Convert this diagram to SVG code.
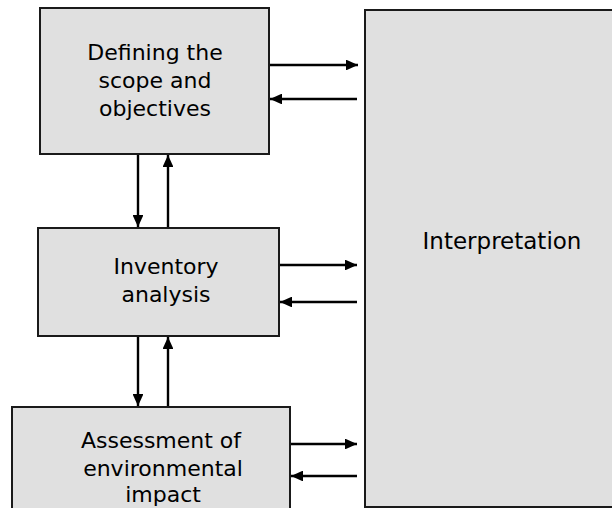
<svg xmlns="http://www.w3.org/2000/svg" width="612" height="508" viewBox="0 0 612 508">
<style>
.box{fill:#e0e0e0;stroke:#1a1a1a;stroke-width:2}
.t{font-family:"Comic Sans MS","DejaVu Sans",sans-serif;font-size:22px;fill:#000;text-anchor:middle}
.c{stroke:#000;stroke-width:2.4;fill:none;marker-end:url(#ah)}
</style>
<defs>
<marker id="ah" viewBox="0 0 10 10" refX="10" refY="5" markerWidth="5" markerHeight="4.5" markerUnits="strokeWidth" orient="auto" preserveAspectRatio="none">
<path d="M0,0 L10,5 L0,10 z" fill="#000"/>
</marker>
</defs>
<rect width="612" height="508" fill="#fff"/>
<g id="interpretation">
<rect class="box" x="365" y="10" width="260" height="497"/>
<text class="t" x="502" y="249" style="font-size:23px">Interpretation</text>
</g>
<g id="scope">
<rect class="box" x="40" y="8" width="229" height="146"/>
<text class="t" x="155" y="60">Defining the</text>
<text class="t" x="155" y="88">scope and</text>
<text class="t" x="155" y="116">objectives</text>
</g>
<g id="inventory">
<rect class="box" x="38" y="228" width="241" height="108"/>
<text class="t" x="166" y="274">Inventory</text>
<text class="t" x="166" y="302">analysis</text>
</g>
<g id="assessment">
<rect class="box" x="12" y="407" width="278" height="110"/>
<text class="t" x="161" y="448">Assessment of</text>
<text class="t" x="163" y="476">environmental</text>
<text class="t" x="163" y="502">impact</text>
</g>
<g id="connectors">
<line class="c" x1="270" y1="65" x2="358" y2="65"/>
<line class="c" x1="357" y1="99" x2="270" y2="99"/>
<line class="c" x1="138" y1="155" x2="138" y2="227"/>
<line class="c" x1="168" y1="227" x2="168" y2="155"/>
<line class="c" x1="280" y1="265" x2="357" y2="265"/>
<line class="c" x1="357" y1="302" x2="280" y2="302"/>
<line class="c" x1="138" y1="337" x2="138" y2="406"/>
<line class="c" x1="168" y1="406" x2="168" y2="337"/>
<line class="c" x1="291" y1="444" x2="357" y2="444"/>
<line class="c" x1="357" y1="476" x2="291" y2="476"/>
</g>
</svg>
